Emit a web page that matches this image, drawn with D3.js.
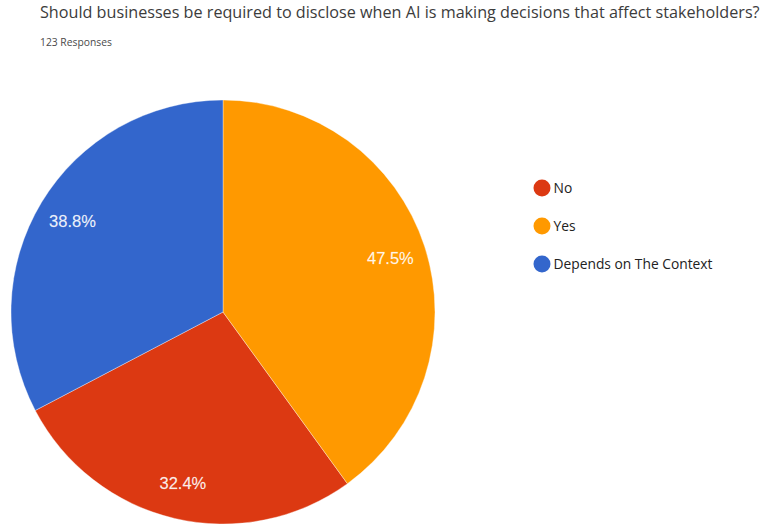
<!DOCTYPE html>
<html>
<head>
<meta charset="utf-8">
<script src="https://cdn.jsdelivr.net/npm/d3@7"></script>
<style>
  html, body { margin: 0; padding: 0; background: #ffffff; }
  svg { display: block; }
</style>
</head>
<body>
<svg id="chart" width="762" height="531"></svg>
<script>
// Survey answers, in legend order
const categories = ["No", "Yes", "Depends on The Context"];
const percentages = [32.4, 47.5, 38.8];
const colors = ["#dc3912", "#ff9900", "#3366cc"];
// Slices are laid out clockwise from twelve o'clock in this order
const sliceOrder = ["Yes", "No", "Depends on The Context"];

const titleText = "Should businesses be required to disclose when AI is making decisions that affect stakeholders?";
const subtitleText = "123 Responses";

const W = 762, H = 531;
const svg = d3.select("#chart");
const font = "'Open Sans', 'Noto Sans', sans-serif";

// Title, sized to span its line
const title = svg.append("text")
  .attr("x", 40).attr("y", 18)
  .attr("font-family", font)
  .attr("font-size", 14)
  .attr("fill", "#3c3c3c")
  .text(titleText);
const tw = title.node().getComputedTextLength();
title.attr("font-size", 14 * 720 / tw);

const sub = svg.append("text")
  .attr("x", 40).attr("y", 46)
  .attr("font-family", font)
  .attr("font-size", 9)
  .attr("fill", "#4a4a4a")
  .text(subtitleText);
const sw = sub.node().getComputedTextLength();
sub.attr("font-size", 9 * 72 / sw);

// Pie
const rows = categories.map((c, i) => ({ category: c, value: percentages[i], color: colors[i] }));
const cx = 223, cy = 312, R = 212;

const pie = d3.pie()
  .value(d => d.value)
  .sort((a, b) => sliceOrder.indexOf(a.category) - sliceOrder.indexOf(b.category));
const arcs = pie(rows);

const arc = d3.arc().innerRadius(0).outerRadius(R);
const labelArc = d3.arc().innerRadius(R * 0.83).outerRadius(R * 0.83);

const g = svg.append("g").attr("transform", `translate(${cx},${cy})`);

g.selectAll("path.slice")
  .data(arcs)
  .join("path")
  .attr("class", "slice")
  .attr("d", arc)
  .attr("fill", d => d.data.color)
  .attr("stroke", "#ffffff")
  .attr("stroke-opacity", 0.6)
  .attr("stroke-width", 0.6);

g.selectAll("text.pct")
  .data(arcs)
  .join("text")
  .attr("class", "pct")
  .attr("transform", d => `translate(${labelArc.centroid(d)})`)
  .attr("text-anchor", "middle")
  .attr("dy", "0.36em")
  .attr("font-family", "'Liberation Sans', Arial, sans-serif")
  .attr("font-size", 16.5)
  .attr("fill", "#ffffff")
  .attr("fill-opacity", 0.92)
  .attr("stroke", "#ffffff")
  .attr("stroke-opacity", 0.35)
  .attr("stroke-width", 0.4)
  .text(d => d.data.value.toFixed(1) + "%");

// Legend
const legendY = d3.scalePoint().domain(categories).range([188, 264]);
const legend = svg.append("g");
const item = legend.selectAll("g.item")
  .data(rows)
  .join("g")
  .attr("class", "item")
  .attr("transform", d => `translate(542,${legendY(d.category)})`);

item.append("circle")
  .attr("r", 8.5)
  .attr("fill", d => d.color);

item.append("text")
  .attr("x", 11.5)
  .attr("dy", "0.35em")
  .attr("font-family", font)
  .attr("font-size", 13.8)
  .attr("fill", "#222222")
  .text(d => d.category);
</script>
</body>
</html>
